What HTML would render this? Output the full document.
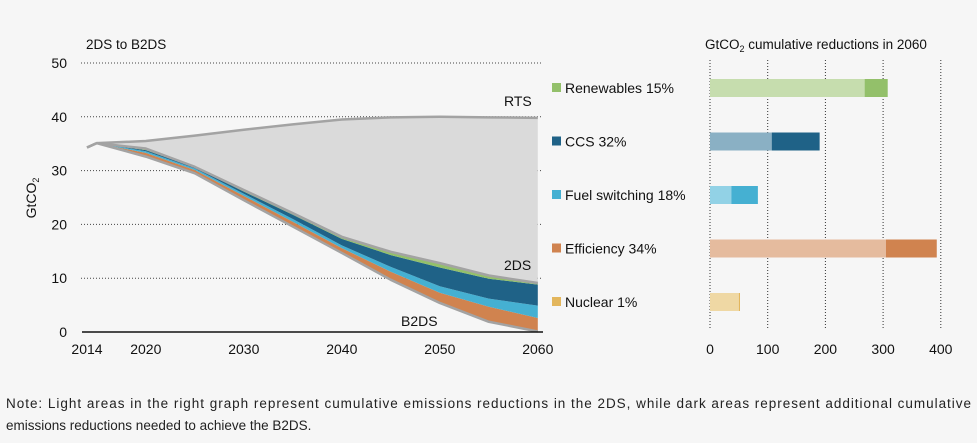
<!DOCTYPE html>
<html><head><meta charset="utf-8"><style>
body{margin:0;background:#f6f6f6;}
svg{display:block;font-family:"Liberation Sans","Noto Sans CJK KR",sans-serif;}
</style></head><body>
<svg id="c" width="977" height="443" viewBox="0 0 977 443">
<rect width="977" height="443" fill="#f6f6f6"/>
<text x="86" y="49" font-size="13.5" fill="#111">2DS to B2DS</text>
<text x="0" y="0" font-size="14" fill="#111" transform="translate(36,198) rotate(-90)" text-anchor="middle">GtCO<tspan font-size="9" dy="3">2</tspan></text>
<text x="705" y="49" font-size="13.5" fill="#111">GtCO<tspan font-size="9" dy="3">2</tspan><tspan dy="-3"> cumulative reductions in 2060</tspan></text>
<g id="grid"></g><g id="areas"></g><g id="axes"></g><g id="legend"></g><g id="bars"></g>
<text x="6" y="408" font-size="13.5" fill="#222" textLength="965">Note: Light areas in the right graph represent cumulative emissions reductions in the 2DS, while dark areas represent additional cumulative</text>
<text x="6" y="430" font-size="13.5" fill="#222">emissions reductions needed to achieve the B2DS.</text>
</svg>
<script>
const years=[2014,2015,2020,2025,2030,2035,2040,2045,2050,2055,2060];
const rts=[34.3,35.1,35.5,36.5,37.6,38.6,39.5,39.9,40,39.9,39.8];
const b2ds=[34.3,35.1,32.6,29.5,24.5,19.6,14.7,9.7,5.4,1.9,0.1];
const efficiency=[0,0,0.7,0.6,0.8,0.9,0.9,1.5,1.9,2.8,2.5];
const fuelSwitching=[0,0,0.3,0.3,0.4,0.5,0.5,0.9,1.2,1.5,2.3];
const ccs=[0,0,0.2,0.2,0.4,0.8,1.2,2.2,3.5,3.7,3.9];
const renewables=[0,0,0.3,0.1,0.3,0.3,0.4,0.6,0.8,0.6,0.3];
const yTicks=[0,10,20,30,40,50];
const xTicks=[2014,2020,2030,2040,2050,2060];
const barCats=["Renewables 15%","CCS 32%","Fuel switching 18%","Efficiency 34%","Nuclear 1%"];
const bar2DS=[268,107,37,305,50];
const barB2DS=[40,83,46,88,2];
const barTicks=[0,100,200,300,400];
const NS="http://www.w3.org/2000/svg";
const X=y=>87+(y-2014)*9.8, Y=v=>332-v*5.38;
const BX=v=>710+v*0.577;
function mk(p,t,a){const e=document.createElementNS(NS,t);for(const k in a)e.setAttribute(k,a[k]);p.appendChild(e);return e;}
const grid=document.getElementById('grid'),areas=document.getElementById('areas'),axes=document.getElementById('axes'),legend=document.getElementById('legend'),bars=document.getElementById('bars');
yTicks.forEach(t=>{
 if(t>0){const l=mk(grid,'line',{x1:81,x2:543,y1:Y(t),y2:Y(t),stroke:'#444','stroke-width':1,'stroke-dasharray':'1 2'});
 
 }
 const tx=mk(axes,'text',{x:67,y:Y(t)+5,'font-size':14,'text-anchor':'end',fill:'#111'});tx.textContent=t;
 
 
});
xTicks.forEach(t=>{const tx=mk(axes,'text',{x:X(t),y:354,'font-size':14,'text-anchor':'middle',fill:'#111'});tx.textContent=t;
 
 });
const bl=mk(axes,'line',{x1:82,x2:543,y1:332,y2:332,stroke:'#111','stroke-width':1.5});


const layers=[efficiency,fuelSwitching,ccs,renewables];
const names=['efficiency-area','fuel-switching-area','ccs-area','renewables-area'];
const cols=['#d0834f','#45b0d2','#1f6287','#93c06a'];
let base=b2ds.slice();
const tops=[];
layers.forEach(L=>{const top=base.map((b,i)=>b+L[i]);tops.push([base,top]);base=top;});
const twoDS=base;
function band(lo,hi){let d='M'+years.map((y,i)=>X(y)+','+Y(hi[i])).join('L');for(let i=years.length-1;i>=0;i--)d+='L'+X(years[i])+','+Y(lo[i]);return d+'Z';}
const g=mk(areas,'path',{d:band(twoDS,rts),fill:'#dadada'});


tops.forEach((tb,k)=>{const p=mk(areas,'path',{d:band(tb[0],tb[1]),fill:cols[k]});
 
 });
[[rts,'rts-line'],[twoDS,'2ds-line'],[b2ds,'b2ds-line']].forEach(([s,n])=>{
 const p=mk(areas,'path',{d:'M'+years.map((y,i)=>X(y)+','+Y(s[i])).join('L'),fill:'none',stroke:'#a3a3a3','stroke-width':2.5,'stroke-linejoin':'round'});
 
 });
[['RTS',504,106],['2DS',504,270],['B2DS',401,326]].forEach(([t,x,y])=>{const e=mk(areas,'text',{x:x,y:y,'font-size':14,fill:'#111'});e.textContent=t;
 
 });
const dark=['#93c06a','#1f6287','#45b0d2','#d0834f','#e3b65c'];
const light=['#c6ddae','#8ab0c4','#92d2e6','#e5bb9e','#efd8a4'];
barTicks.forEach(t=>{const l=mk(bars,'line',{x1:BX(t),x2:BX(t),y1:60,y2:329,stroke:'#333','stroke-dasharray':'1 2'});
 
 
 const tx=mk(bars,'text',{x:BX(t),y:354,'font-size':14,'text-anchor':'middle',fill:'#111'});tx.textContent=t;
 
 });
barCats.forEach((c,i)=>{const cy=88+i*53.5;
 const sq=mk(legend,'rect',{x:552,y:cy-5,width:9,height:9,fill:dark[i]});
 
 
 const tx=mk(legend,'text',{x:565,y:cy+5,'font-size':14,fill:'#111'});tx.textContent=c;
 
 
 const r1=mk(bars,'rect',{x:BX(0),y:cy-9,width:BX(bar2DS[i])-BX(0),height:18,fill:light[i]});
 
 
 const r2=mk(bars,'rect',{x:BX(bar2DS[i]),y:cy-9,width:BX(bar2DS[i]+barB2DS[i])-BX(bar2DS[i]),height:18,fill:dark[i]});
 
 
});
</script>
</body></html>
